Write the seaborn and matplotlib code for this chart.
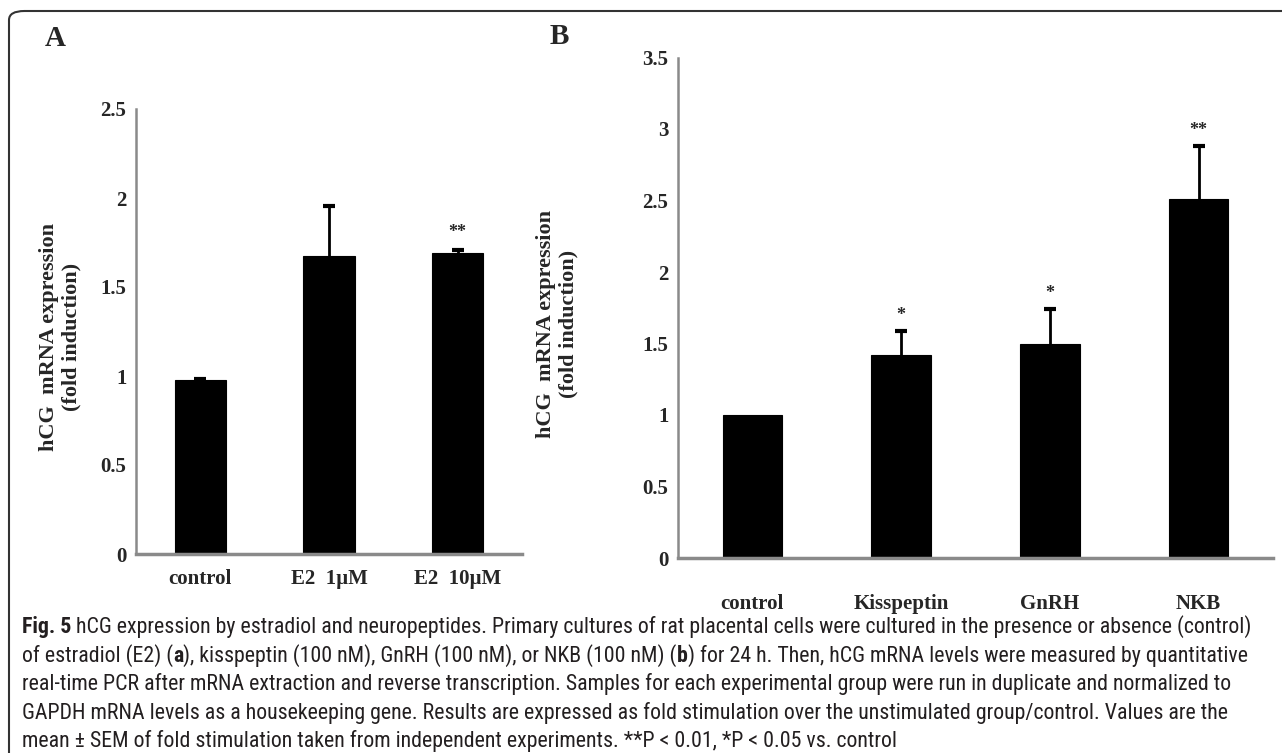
import matplotlib
matplotlib.use("Agg")
import matplotlib.pyplot as plt
import seaborn as sns
import numpy as np
import pandas as pd
from matplotlib.patches import FancyBboxPatch
from matplotlib import font_manager

# ---------------- data ----------------
cats_a = ["control", "E2  1\u00b5M", "E2  10\u00b5M"]
mean_a = [0.975, 1.675, 1.69]
sem_a = [0.01, 0.28, 0.02]
sig_a = ["", "", "**"]

cats_b = ["control", "Kisspeptin", "GnRH", "NKB"]
mean_b = [1.0, 1.42, 1.50, 2.51]
sem_b = [0.0, 0.17, 0.24, 0.37]
sig_b = ["", "*", "*", "**"]

yticks_a = [0, 0.5, 1, 1.5, 2, 2.5]
ytick_labels_a = ["0", "0.5", "1", "1.5", "2", "2.5"]
yticks_b = [0, 0.5, 1, 1.5, 2, 2.5, 3, 3.5]
ytick_labels_b = ["0", "0.5", "1", "1.5", "2", "2.5", "3", "3.5"]

ylabel = "hCG  mRNA expression\n(fold induction)"

caption_lines = [
    [("Fig. 5", True), (" hCG expression by estradiol and neuropeptides. Primary cultures of rat placental cells were cultured in the presence or absence (control)", False)],
    [("of estradiol (E2) (", False), ("a", True), ("), kisspeptin (100 nM), GnRH (100 nM), or NKB (100 nM) (", False), ("b", True), (") for 24 h. Then, hCG mRNA levels were measured by quantitative", False)],
    [("real-time PCR after mRNA extraction and reverse transcription. Samples for each experimental group were run in duplicate and normalized to", False)],
    [("GAPDH mRNA levels as a housekeeping gene. Results are expressed as fold stimulation over the unstimulated group/control. Values are the", False)],
    [("mean \u00b1 SEM of fold stimulation taken from independent experiments. **P < 0.01, *P < 0.05 vs. control", False)],
]

# ---------------- style ----------------
sns.set_style("white")
plt.rcParams["font.family"] = ["Liberation Serif", "DejaVu Serif"]

W, H = 1282, 753
fig = plt.figure(figsize=(W / 100, H / 100), dpi=100)
renderer = fig.canvas.get_renderer()

SPINE = "#8a8a8a"


def px_axes(x0, x1, y_top, y_bot):
    return fig.add_axes([x0 / W, 1 - y_bot / H, (x1 - x0) / W, (y_bot - y_top) / H])


def draw_panel(ax, cats, means, sems, sigs, yticks, ylabels, ymax, tick_fs, label_pad_x, sig_off):
    df = pd.DataFrame({"cat": cats, "val": means})
    sns.barplot(data=df, x="cat", y="val", order=cats, color="black", saturation=1,
                width=0.4, errorbar=None, edgecolor="black", linewidth=0.8, ax=ax)
    xs = np.arange(len(cats))
    sel = [i for i, s in enumerate(sems) if s > 0]
    m_sel = np.array([means[i] for i in sel])
    s_sel = np.array([sems[i] for i in sel])
    _, caps, _ = ax.errorbar(xs[sel], m_sel, yerr=[np.zeros(len(sel)), s_sel], fmt="none",
                             ecolor="black", elinewidth=2, capsize=4, capthick=3, zorder=3)
    for cl in caps:
        if np.allclose(cl.get_ydata(), m_sel):
            cl.set_visible(False)
    for x, m, s, g in zip(xs, means, sems, sigs):
        if g:
            ax.annotate(g, (x, m + s), xytext=(0, sig_off), textcoords="offset points",
                        ha="center", va="bottom", fontsize=13, fontweight="bold")
    ax.set_xlim(-0.5, len(cats) - 0.5)
    ax.set_ylim(0, ymax)
    ax.set_yticks(yticks)
    ax.set_yticklabels(ylabels, fontsize=tick_fs, fontweight="bold")
    ax.set_xticks(xs)
    ax.set_xticklabels(cats, fontsize=15, fontweight="bold")
    ax.set_xticks(np.arange(len(cats) + 1) - 0.5, minor=True)
    ax.tick_params(axis="x", which="major", length=0, pad=label_pad_x)
    ax.tick_params(axis="x", which="minor", length=9, width=1.5, color=SPINE, direction="out")
    ax.tick_params(axis="y", which="major", length=4, width=1.5, color=SPINE, direction="out", pad=3)
    ax.set_xlabel("")
    ax.set_ylabel("")
    for sp in ["top", "right"]:
        ax.spines[sp].set_visible(False)
    ax.spines["left"].set_color(SPINE)
    ax.spines["left"].set_linewidth(1.8)
    ax.spines["bottom"].set_color(SPINE)
    ax.spines["bottom"].set_linewidth(2.5)
    ax.set_facecolor("white")


axA = px_axes(136, 522, 109, 554)
draw_panel(axA, cats_a, mean_a, sem_a, sig_a, yticks_a, ytick_labels_a, 2.5, 15, 11, 6)

axB = px_axes(678, 1273, 57.5, 558)
draw_panel(axB, cats_b, mean_b, sem_b, sig_b, yticks_b, ytick_labels_b, 3.5, 15, 26, 5)

# y labels
fig.text(60 / W, 1 - 337 / H, ylabel, rotation=90, ha="center", va="center",
         fontsize=16, fontweight="bold", linespacing=1.15)
fig.text(557 / W, 1 - 324 / H, ylabel, rotation=90, ha="center", va="center",
         fontsize=16, fontweight="bold", linespacing=1.15)

# panel letters
fig.text(55 / W, 1 - 39 / H, "A", ha="center", va="center", fontsize=21, fontweight="bold")
fig.text(559 / W, 1 - 37 / H, "B", ha="center", va="center", fontsize=21, fontweight="bold")

# frame
frame = FancyBboxPatch((9 / W, -0.2), 1.3, 1 - 11 / H + 0.2,
                       boxstyle="round,pad=0,rounding_size=0.012",
                       transform=fig.transFigure, facecolor="none",
                       edgecolor="#333333", linewidth=1.5, zorder=0)
fig.patches.append(frame)

# caption: pick the narrowest installed sans family (reference uses a condensed face)
available = {f.name for f in font_manager.fontManager.ttflist}
candidates = [c for c in ["Liberation Sans Narrow", "DejaVu Sans Condensed", "Roboto Condensed",
                          "Roboto", "Lato", "Liberation Sans", "Noto Sans", "Open Sans", "DejaVu Sans"]
              if c in available]
line0 = "".join(s for s, _ in caption_lines[0])
best, best_w = None, None
for c in candidates:
    t = fig.text(0, 0, line0, fontsize=14, family=c)
    w = t.get_window_extent(renderer=renderer).width
    t.remove()
    if best_w is None or w < best_w:
        best, best_w = c, w
cap_family = [best, "DejaVu Sans"]
cap_fs = 14 * 1242 / best_w
cap_color = "#231f20"


def draw_line(segments, x0, y, fs):
    x = x0
    for txt, bold in segments:
        t = fig.text(x / W, 1 - y / H, txt, fontsize=fs, family=cap_family,
                     fontweight="bold" if bold else "normal", color=cap_color,
                     ha="left", va="baseline")
        bb = t.get_window_extent(renderer=renderer)
        x += bb.width
    return x


baselines = [633, 661.5, 690, 718.5, 747]
for segs, yb in zip(caption_lines, baselines):
    draw_line(segs, 22, yb, cap_fs)

fig.savefig("out.png", dpi=100, facecolor="white")
